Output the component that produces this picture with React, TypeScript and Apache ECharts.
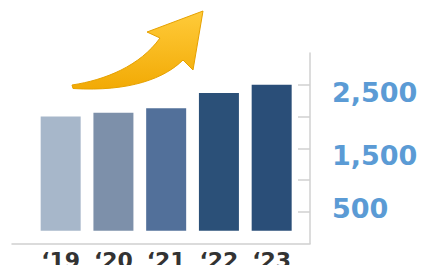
import React, { useEffect, useRef } from "react";
import * as echarts from "echarts";

const categories = ["‘19", "‘20", "‘21", "‘22", "‘23"];
const values = [2000, 2060, 2130, 2370, 2500];
const barBase = 200;
const barColors = ["#A7B7CA", "#7D90AA", "#52709A", "#2B5078", "#2A4E78"];
const tickValues = [500, 1000, 1500, 2000, 2500];
const labelValues = [500, 1500, 2500];
const labelTexts = ["500", "1,500", "2,500"];

const ARROW_D =
  "M 72 85 C 105 80 140 66 160 38 L 147 32 L 203 11 L 193 70 L 183 60 C 165 78 130 92 73 88.5 Z";

let registered = false;
function ensureShape() {
  if (registered) return;
  echarts.graphic.registerShape("arrowShape", (echarts.graphic as any).extendPath(ARROW_D, {}));
  registered = true;
}

export default function App() {
  const ref = useRef<HTMLDivElement>(null);
  useEffect(() => {
    if (!ref.current) return;
    ensureShape();
    const chart = echarts.init(ref.current, null, { renderer: "svg" });
    const font = "'DejaVu Sans', Verdana, sans-serif";
    chart.setOption({
      animation: false,
      grid: [
        { left: 34.3, width: 263.75, top: 53, bottom: 21.5, containLabel: false, outerBoundsMode: "none" },
        { left: 12, width: 298, top: 53, bottom: 21.5, containLabel: false, outerBoundsMode: "none" },
      ],
      xAxis: [
        {
          gridIndex: 0,
          type: "category",
          data: categories,
          axisLine: { show: false },
          axisTick: { show: false },
          axisLabel: {
            margin: 6,
            color: "#333333",
            fontSize: 22,
            fontWeight: "bold",
            fontFamily: font,
          },
        },
        {
          gridIndex: 1,
          type: "category",
          data: [""],
          axisLine: { show: true, lineStyle: { color: "#D0D0D0", width: 1.5 } },
          axisTick: { show: false },
          axisLabel: { show: false },
        },
      ],
      yAxis: [
        {
          gridIndex: 0,
          type: "value",
          min: 0,
          max: 3000,
          show: false,
        },
        {
          gridIndex: 1,
          type: "value",
          position: "right",
          min: 0,
          max: 3000,
          interval: 500,
          splitLine: { show: false },
          axisLine: { show: true, lineStyle: { color: "#D0D0D0", width: 1.5 } },
          axisTick: {
            show: true,
            inside: true,
            length: 12,
            customValues: tickValues,
            lineStyle: { color: "#D0D0D0", width: 1.5 },
          },
          axisLabel: {
            margin: 22,
            customValues: labelValues,
            formatter: (v: number) => {
              const i = labelValues.indexOf(v);
              return i >= 0 ? `{l${i}|${labelTexts[i]}}` : "";
            },
            rich: {
              l0: { color: "#5B9BD5", fontSize: 27, fontWeight: "bold", fontFamily: font, padding: [0, 0, 6, 0] },
              l1: { color: "#5B9BD5", fontSize: 27, fontWeight: "bold", fontFamily: font, padding: [14, 0, 0, 0] },
              l2: { color: "#5B9BD5", fontSize: 27, fontWeight: "bold", fontFamily: font, padding: [16, 0, 0, 0] },
            },
          },
        },
      ],
      series: [
        {
          type: "bar",
          xAxisIndex: 0,
          yAxisIndex: 0,
          stack: "s",
          barWidth: 40,
          data: values.map(() => barBase),
          itemStyle: { color: "transparent" },
          silent: true,
        },
        {
          type: "bar",
          xAxisIndex: 0,
          yAxisIndex: 0,
          stack: "s",
          barWidth: 40,
          data: values.map((v, i) => ({ value: v - barBase, itemStyle: { color: barColors[i] } })),
        },
      ],
      graphic: [
        {
          type: "arrowShape",
          x: 0,
          y: 0,
          z: 10,
          style: {
            fill: new echarts.graphic.LinearGradient(0, 0, 0, 1, [
              { offset: 0, color: "#FFCB3A" },
              { offset: 1, color: "#F2AA05" },
            ]),
            stroke: "#E6A100",
            lineWidth: 1,
          },
        },
      ],
    });
    return () => chart.dispose();
  }, []);
  return <div ref={ref} style={{ width: 422, height: 265, position: "absolute", left: 0, top: 0 }} />;
}
